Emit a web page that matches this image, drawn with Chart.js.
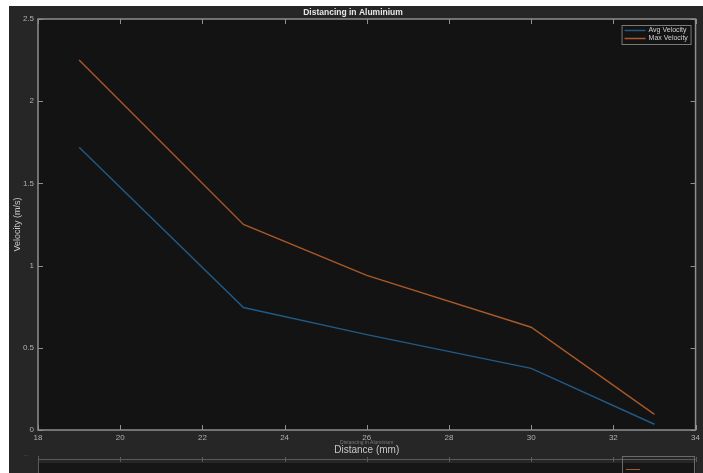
<!DOCTYPE html>
<html>
<head>
<meta charset="utf-8">
<script src="https://cdn.jsdelivr.net/npm/chart.js@4.4.0/dist/chart.umd.min.js"></script>
<style>
  html, body { margin: 0; padding: 0; background: #ffffff; }
  #wrap { width: 703px; height: 473px; }
</style>
</head>
<body>
<div id="wrap"><canvas id="chart" width="703" height="473"></canvas></div>
<script>
// values
const distances = [19, 23, 26, 30, 33];
const avgVelocity = [1.72, 0.745, 0.58, 0.375, 0.035];
const maxVelocity = [2.25, 1.25, 0.94, 0.625, 0.095];
const seriesNames = ['Avg Velocity', 'Max Velocity'];
const seriesColors = ['#215a86', '#a95828'];

const PANEL = '#262626';
const AXES_BG = '#131313';
const FRAME = '#8f8f8f';
const TEXT = '#b0b0b0';

function toPoints(ys) {
  return distances.map((x, i) => ({x: x, y: ys[i]}));
}

/** panel and axes background */
const backdrop = {
  id: 'backdrop',
  beforeDraw(chart) {
    const {ctx, chartArea: a} = chart;
    ctx.save();
    ctx.fillStyle = '#ffffff';
    ctx.fillRect(0, 0, chart.width, chart.height);
    ctx.fillStyle = PANEL;
    ctx.fillRect(9, 6, chart.width - 9, chart.height - 6);
    ctx.fillStyle = AXES_BG;
    ctx.fillRect(a.left, a.top, a.right - a.left, a.bottom - a.top);
    ctx.restore();
  },
};

/** box around the axes with inward ticks on all four sides (MATLAB look) */
const frame = {
  id: 'frame',
  afterDatasetsDraw(chart) {
    const {ctx, chartArea: a, scales} = chart;
    const len = 5;
    ctx.save();
    ctx.strokeStyle = FRAME;
    ctx.lineWidth = 1;
    ctx.beginPath();
    scales.x.ticks.forEach((t) => {
      const px = Math.round(scales.x.getPixelForValue(t.value)) + 0.5;
      ctx.moveTo(px, a.bottom);
      ctx.lineTo(px, a.bottom - len);
      ctx.moveTo(px, a.top);
      ctx.lineTo(px, a.top + len);
    });
    scales.y.ticks.forEach((t) => {
      const py = Math.round(scales.y.getPixelForValue(t.value)) + 0.5;
      ctx.moveTo(a.left, py);
      ctx.lineTo(a.left + len, py);
      ctx.moveTo(a.right, py);
      ctx.lineTo(a.right - len, py);
    });
    ctx.stroke();
    ctx.lineWidth = 1.5;
    ctx.strokeRect(a.left, a.top, a.right - a.left, a.bottom - a.top);
    ctx.restore();
  },
};

/** legend box in the top right corner of the axes */
const boxLegend = {
  id: 'boxLegend',
  afterDraw(chart) {
    const {ctx, chartArea: a} = chart;
    const w = 69;
    const h = 19;
    const x0 = a.right - 5 - w;
    const y0 = a.top + 6;
    ctx.save();
    ctx.fillStyle = AXES_BG;
    ctx.fillRect(x0, y0, w, h);
    ctx.strokeStyle = '#7a7a7a';
    ctx.lineWidth = 1;
    ctx.strokeRect(x0 + 0.5, y0 + 0.5, w, h);
    ctx.font = '7px "Liberation Sans", Arial, sans-serif';
    ctx.textBaseline = 'middle';
    chart.data.datasets.forEach((ds, i) => {
      const y = y0 + 5.5 + i * 8;
      ctx.strokeStyle = ds.borderColor;
      ctx.lineWidth = 1.5;
      ctx.beginPath();
      ctx.moveTo(x0 + 3, y);
      ctx.lineTo(x0 + 24, y);
      ctx.stroke();
      ctx.fillStyle = '#d0d0d0';
      ctx.fillText(ds.label, x0 + 27, y);
    });
    ctx.restore();
  },
};

/** faint remnants of a second figure peeking in at the bottom */
const remnant = {
  id: 'remnant',
  afterDraw(chart) {
    const {ctx, chartArea: a, scales} = chart;
    ctx.save();
    ctx.fillStyle = '#7a7a7a';
    ctx.font = '5px "Liberation Sans", Arial, sans-serif';
    ctx.textAlign = 'center';
    ctx.fillText(chart.options.plugins.title.text, (a.left + a.right) / 2, 444);
    ctx.fillText('...', 26, 456);
    ctx.strokeStyle = '#5a5a5a';
    ctx.lineWidth = 1;
    ctx.beginPath();
    ctx.moveTo(a.left, 459.5);
    ctx.lineTo(a.right, 459.5);
    scales.x.ticks.forEach((t) => {
      const px = Math.round(scales.x.getPixelForValue(t.value)) + 0.5;
      ctx.moveTo(px, 457);
      ctx.lineTo(px, 462);
    });
    ctx.moveTo(a.left + 0.5, 456);
    ctx.lineTo(a.left + 0.5, 473);
    ctx.stroke();
    ctx.fillStyle = '#161616';
    ctx.fillRect(a.left + 1, 463, a.right - a.left - 1, 10);
    ctx.strokeStyle = '#6a6a6a';
    ctx.strokeRect(622.5, 456.5, 72, 20);
    ctx.strokeStyle = seriesColors[1];
    ctx.beginPath();
    ctx.moveTo(626, 469.5);
    ctx.lineTo(640, 469.5);
    ctx.stroke();
    ctx.restore();
  },
};

const tickFont = {family: '"Liberation Sans", Arial, sans-serif', size: 8};

new Chart(document.getElementById('chart'), {
  type: 'line',
  data: {
    datasets: [
      {
        label: seriesNames[0],
        data: toPoints(avgVelocity),
        borderColor: seriesColors[0],
        borderWidth: 1.4,
        pointRadius: 0,
        tension: 0,
      },
      {
        label: seriesNames[1],
        data: toPoints(maxVelocity),
        borderColor: seriesColors[1],
        borderWidth: 1.4,
        pointRadius: 0,
        tension: 0,
      },
    ],
  },
  options: {
    responsive: false,
    animation: false,
    devicePixelRatio: 1,
    layout: {padding: {left: 9, top: 6, right: 6, bottom: 0}},
    scales: {
      x: {
        type: 'linear',
        min: 18,
        max: 34,
        grid: {display: false, drawTicks: false},
        border: {display: false},
        ticks: {stepSize: 2, color: TEXT, font: tickFont, padding: 3, maxRotation: 0},
        title: {
          display: true,
          text: 'Distance (mm)',
          color: '#c8c8c8',
          font: {family: '"Liberation Sans", Arial, sans-serif', size: 10},
          padding: {top: 0, bottom: 17},
        },
        afterFit: (scale) => { scale.height = 43; },
      },
      y: {
        min: 0,
        max: 2.5,
        grid: {display: false, drawTicks: false},
        border: {display: false},
        ticks: {stepSize: 0.5, color: TEXT, font: tickFont, padding: 4, callback: (v) => String(v)},
        title: {
          display: true,
          text: 'Velocity (m/s)',
          color: '#c8c8c8',
          font: {family: '"Liberation Sans", Arial, sans-serif', size: 9},
          padding: {top: 3, bottom: 0},
        },
        afterFit: (scale) => { scale.width = 29; },
      },
    },
    plugins: {
      legend: {display: false},
      tooltip: {enabled: false},
      title: {
        display: true,
        text: 'Distancing in Aluminium',
        color: '#e8e8e8',
        font: {family: '"Liberation Sans", Arial, sans-serif', size: 8.5, weight: 'bold'},
        padding: {top: 2, bottom: 0.8},
      },
    },
  },
  plugins: [backdrop, frame, boxLegend, remnant],
});
</script>
</body>
</html>
